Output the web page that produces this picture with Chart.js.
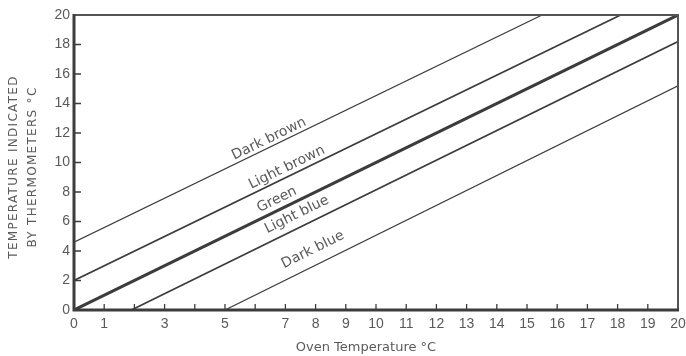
<!DOCTYPE html>
<html>
<head>
<meta charset="utf-8">
<script src="https://cdn.jsdelivr.net/npm/chart.js@4.4.1/dist/chart.umd.min.js"></script>
<style>
  html, body { margin: 0; padding: 0; background: #fff; }
  #wrap { width: 686px; height: 356px; position: relative; }
</style>
</head>
<body>
<div id="wrap"><canvas id="c"></canvas></div>
<script>
// series names + line endpoints (oven °C -> indicated °C)
const seriesNames = ['Dark brown', 'Light brown', 'Green', 'Light blue', 'Dark blue'];
const darkBrown  = [{ x: 0, y: 4.6 }, { x: 15.5, y: 20 }];
const lightBrown = [{ x: 0, y: 2.0 }, { x: 18.1, y: 20 }];
const green      = [{ x: 0, y: 0 },   { x: 20, y: 20 }];
const lightBlue  = [{ x: 1.9, y: 0 }, { x: 20, y: 18.2 }];
const darkBlue   = [{ x: 5, y: 0 },   { x: 20, y: 15.2 }];

// axis ticks
const xTicks = [0, 1, 2, 3, 4, 5, 6, 7, 8, 9, 10, 11, 12, 13, 14, 15, 16, 17, 18, 19, 20];
const xTickLabelsHidden = [2, 4, 6];
const yTicks = [0, 2, 4, 6, 8, 10, 12, 14, 16, 18, 20];

// where each name sits along its line (data units)
const labelAnchors = [
  { x: 6.46, y: 11.6 },
  { x: 7.05, y: 9.66 },
  { x: 6.72, y: 7.48 },
  { x: 7.38, y: 6.46 },
  { x: 7.91, y: 4.08 },
];

const INK = '#3c3c3c';
const TEXT = '#5a5a5a';
const widths = [1.2, 1.7, 3, 1.7, 1.2];

const frame = {
  id: 'frame',
  afterDatasetsDraw(chart) {
    const { ctx, chartArea: a, scales: { x, y } } = chart;
    ctx.save();
    // top + right border
    ctx.strokeStyle = '#555';
    ctx.lineWidth = 2;
    ctx.beginPath();
    ctx.moveTo(a.left, a.top); ctx.lineTo(a.right, a.top); ctx.lineTo(a.right, a.bottom);
    ctx.stroke();
    // heavy left + bottom axes
    ctx.strokeStyle = INK;
    ctx.lineWidth = 3;
    ctx.beginPath();
    ctx.moveTo(a.left, a.top - 1); ctx.lineTo(a.left, a.bottom); ctx.lineTo(a.right + 1, a.bottom);
    ctx.stroke();
    // inward ticks
    ctx.lineWidth = 1.3;
    ctx.beginPath();
    xTicks.forEach(v => {
      if (v === 0 || v === 20) return;
      const px = x.getPixelForValue(v);
      ctx.moveTo(px, a.bottom); ctx.lineTo(px, a.bottom - 6);
    });
    yTicks.forEach(v => {
      if (v === 0 || v === 20) return;
      const py = y.getPixelForValue(v);
      ctx.moveTo(a.left, py); ctx.lineTo(a.left + 7, py);
    });
    ctx.stroke();

    // line names, rotated to the slope of each line
    ctx.fillStyle = TEXT;
    ctx.font = '14px "DejaVu Sans"';
    ctx.textAlign = 'center';
    ctx.textBaseline = 'middle';
    const sets = chart.data.datasets;
    labelAnchors.forEach((p, i) => {
      const d = sets[i].data;
      const dx = x.getPixelForValue(d[1].x) - x.getPixelForValue(d[0].x);
      const dy = y.getPixelForValue(d[1].y) - y.getPixelForValue(d[0].y);
      ctx.save();
      ctx.translate(x.getPixelForValue(p.x), y.getPixelForValue(p.y));
      ctx.rotate(Math.atan2(dy, dx));
      ctx.fillText(seriesNames[i], 0, 0);
      ctx.restore();
    });

    // axis titles
    ctx.font = '13px "DejaVu Sans"';
    ctx.fillText('Oven Temperature °C', (a.left + a.right) / 2 - 10, 348);
    ctx.save();
    ctx.font = '12px "DejaVu Sans"';
    ctx.letterSpacing = '1.3px';
    ctx.translate(14, 167);
    ctx.rotate(-Math.PI / 2);
    ctx.fillText('TEMPERATURE INDICATED', 0, 0);
    ctx.fillText('BY THERMOMETERS °C', 0, 19);
    ctx.restore();
    ctx.restore();
  }
};

const allSeries = [darkBrown, lightBrown, green, lightBlue, darkBlue];

new Chart(document.getElementById('c'), {
  type: 'scatter',
  data: {
    datasets: allSeries.map((pts, i) => ({
      label: seriesNames[i],
      data: pts,
      showLine: true,
      borderColor: INK,
      borderWidth: widths[i],
      pointRadius: 0,
      fill: false,
    })),
  },
  options: {
    responsive: true,
    maintainAspectRatio: false,
    animation: false,
    layout: { padding: { left: 0, right: 8, top: 15, bottom: 0 } },
    plugins: { legend: { display: false }, tooltip: { enabled: false } },
    scales: {
      x: {
        type: 'linear', min: 0, max: 20,
        afterFit(s) { s.height = 46; s.paddingLeft = 0; s.paddingRight = 0; },
        afterBuildTicks(s) { s.ticks = xTicks.map(v => ({ value: v })); },
        grid: { display: false, drawTicks: false },
        border: { display: false },
        ticks: {
          padding: 6,
          color: TEXT,
          font: { family: 'Liberation Sans', size: 14 },
          maxRotation: 0,
          autoSkip: false,
          callback: v => xTickLabelsHidden.includes(v) ? '' : String(v),
        },
      },
      y: {
        type: 'linear', min: 0, max: 20,
        afterFit(s) { s.width = 74; s.paddingTop = 0; s.paddingBottom = 0; },
        afterBuildTicks(s) { s.ticks = yTicks.map(v => ({ value: v })); },
        grid: { display: false, drawTicks: false },
        border: { display: false },
        ticks: {
          padding: 4,
          color: TEXT,
          font: { family: 'Liberation Sans', size: 14 },
          autoSkip: false,
        },
      },
    },
  },
  plugins: [frame],
});
</script>
</body>
</html>
